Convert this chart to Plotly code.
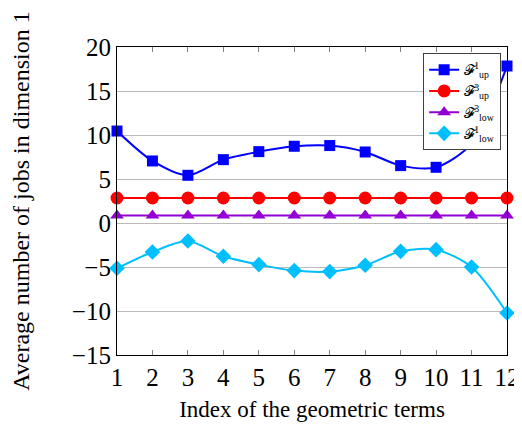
import plotly.graph_objects as go

x_vals = list(range(1, 13))
f_up1 = [10.45, 7.05, 5.42, 7.2, 8.11, 8.72, 8.8, 8.07, 6.52, 6.33, 9.02, 17.84]
f_up3 = [2.84] * 12
f_low3 = [0.85] * 12
f_low1 = [-5.15, -3.3, -2.05, -3.78, -4.73, -5.41, -5.52, -4.8, -3.22, -3.03, -5.0, -10.23]

names = ["𝓕<sup>1</sup><sub>up</sub>", "𝓕<sup>3</sup><sub>up</sub>",
         "𝓕<sup>3</sup><sub>low</sub>", "𝓕<sup>1</sup><sub>low</sub>"]
colors = ["#0000FF", "#FF0000", "#9400D3", "#00BFFF"]
symbols = ["square", "circle", "triangle-up", "diamond"]
sizes = [11, 13, 12, 12]
series = [f_up1, f_up3, f_low3, f_low1]

fig = go.Figure()
for s, n, c, m, sz in zip(series, names, colors, symbols, sizes):
    fig.add_trace(go.Scatter(
        x=x_vals, y=s, name=n, mode="lines+markers",
        line=dict(color=c, width=2, shape="spline", smoothing=0.8),
        marker=dict(color=c, symbol=m, size=sz, line=dict(width=0)),
        cliponaxis=False,
    ))

font_family = "Liberation Serif, DejaVu Serif, serif"
# page body has an 8px default margin; compensate so the plot area lands in place
fig.update_layout(
    width=514, height=417,
    margin=dict(l=109, r=15, t=39, b=70),
    plot_bgcolor="white", paper_bgcolor="white",
    font=dict(family=font_family, color="black"),
    showlegend=True,
    legend=dict(x=0.985, y=0.98, xanchor="right", yanchor="top",
                bgcolor="white", bordercolor="#404040", borderwidth=1,
                font=dict(size=14, family=font_family), tracegroupgap=0,
                itemwidth=30),
)
fig.update_xaxes(
    range=[1, 12], tickvals=x_vals, ticktext=[str(v) for v in x_vals],
    showgrid=False, showline=True, linecolor="black", linewidth=1.2,
    mirror="ticks", ticks="inside", ticklen=5, tickcolor="#808080",
    tickfont=dict(size=25), zeroline=False, automargin=False,
    title=dict(text="Index of the geometric terms", font=dict(size=23), standoff=10),
)
fig.update_yaxes(
    range=[-15, 20], tickvals=[-15, -10, -5, 0, 5, 10, 15, 20],
    ticktext=["\u221215", "\u221210", "\u22125", "0", "5", "10", "15", "20"],
    showgrid=True, gridcolor="#BBBBBB", gridwidth=1,
    showline=True, linecolor="black", linewidth=1.2, mirror=True,
    ticks="", tickfont=dict(size=25), zeroline=False, automargin=False,
    title=dict(text="Average number of jobs in dimension 1", font=dict(size=24), standoff=40),
)

fig.write_html("out.html")
